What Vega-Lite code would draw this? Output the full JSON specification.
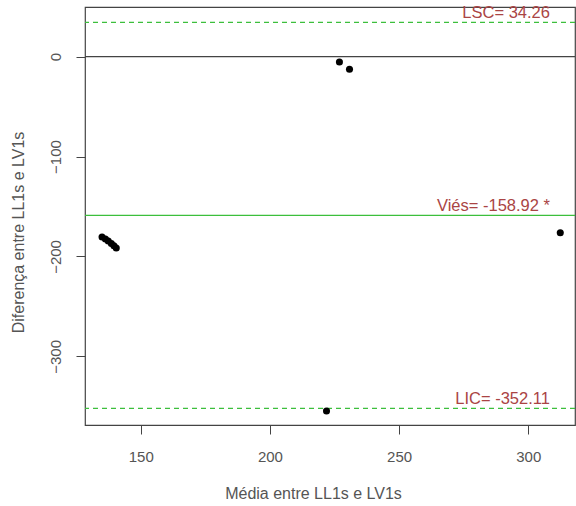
{
  "$schema": "https://vega.github.io/schema/vega-lite/v6.json",
  "width": 490,
  "height": 418,
  "autosize": "none",
  "padding": {"left": 85, "top": 7, "right": 1, "bottom": 81},
  "background": "white",
  "config": {
    "font": "Liberation Sans",
    "view": {"stroke": "#444", "strokeWidth": 1.2},
    "axis": {
      "grid": false,
      "domain": false,
      "tickColor": "#444",
      "tickSize": 9,
      "labelFont": "Liberation Sans",
      "labelFontSize": 15,
      "labelColor": "#555",
      "titleFont": "Liberation Sans",
      "titleFontSize": 16,
      "titleFontWeight": "normal",
      "titleColor": "#555",
      "titleLimit": 1000
    }
  },
  "datasets": {
    "points": [
      {"media": 135.0, "dif": -180.5},
      {"media": 136.3, "dif": -182.5},
      {"media": 137.4, "dif": -184.6},
      {"media": 138.6, "dif": -187.0},
      {"media": 139.6, "dif": -189.2},
      {"media": 140.5, "dif": -191.5},
      {"media": 226.9, "dif": -5.3},
      {"media": 230.8, "dif": -12.6},
      {"media": 221.9, "dif": -354.7},
      {"media": 312.4, "dif": -176.2}
    ],
    "lines": [
      {"name": "LSC", "value": 34.26, "kind": "limite", "label": "LSC= 34.26"},
      {"name": "Viés", "value": -158.92, "kind": "viés", "label": "Viés= -158.92 *"},
      {"name": "LIC", "value": -352.11, "kind": "limite", "label": "LIC= -352.11"}
    ]
  },
  "layer": [
    {
      "data": {"name": "lines"},
      "mark": {"type": "rule", "color": "#3cbf3c", "strokeWidth": 1.2},
      "encoding": {
        "y": {"field": "value", "type": "quantitative", "scale": {"domain": [-368.7, 49.7], "nice": false, "zero": false}},
        "strokeDash": {"field": "kind", "type": "nominal", "scale": {"domain": ["limite", "viés"], "range": [[5, 4], [1, 0]]}, "legend": null}
      }
    },
    {
      "data": {"values": [{}]},
      "mark": {"type": "rule", "color": "#444", "strokeWidth": 1.3},
      "encoding": {"y": {"datum": 0}}
    },
    {
      "data": {"name": "lines"},
      "mark": {"type": "text", "align": "right", "baseline": "bottom", "dy": -1, "fontSize": 16.5, "color": "#aa4444", "font": "Liberation Sans"},
      "encoding": {
        "x": {"datum": 308.4},
        "y": {"field": "value", "type": "quantitative"},
        "text": {"field": "label"}
      }
    },
    {
      "data": {"name": "points"},
      "mark": {"type": "circle", "color": "black", "opacity": 1, "size": 50},
      "encoding": {
        "x": {
          "field": "media", "type": "quantitative",
          "scale": {"domain": [128.4, 318.1], "nice": false, "zero": false},
          "axis": {"values": [150, 200, 250, 300], "title": "Média entre LL1s e LV1s", "labelPadding": 15, "titlePadding": 21, "titleX": 228}
        },
        "y": {
          "field": "dif", "type": "quantitative",
          "axis": {"values": [0, -100, -200, -300], "title": "Diferença entre LL1s e LV1s", "labelAngle": -90, "labelAlign": "center", "labelBaseline": "bottom", "labelPadding": 13, "titleX": -59, "titleY": 225}
        }
      }
    }
  ]
}
